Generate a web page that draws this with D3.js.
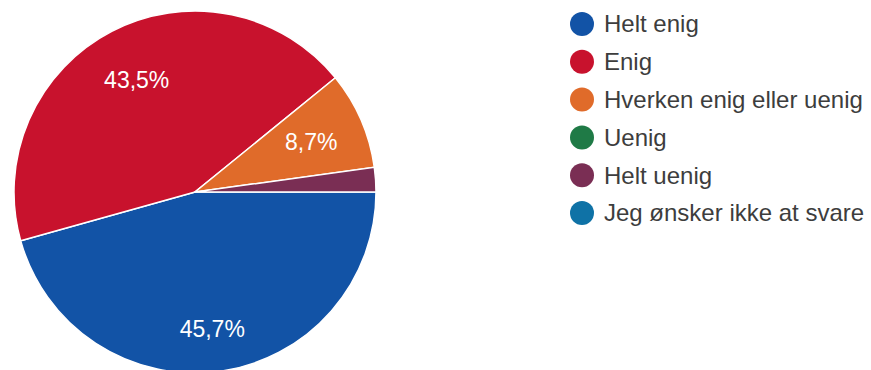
<!DOCTYPE html>
<meta charset="utf-8">
<html>
<head>
<script src="https://d3js.org/d3.v7.min.js"></script>
<style>
  body { margin: 0; background: #fff; }
  text { font-family: "Liberation Sans", Arial, sans-serif; }
</style>
</head>
<body>
<svg width="871" height="370"></svg>
<script>
// data
var categories = ["Helt enig", "Enig", "Hverken enig eller uenig", "Uenig", "Helt uenig", "Jeg ønsker ikke at svare"];
var counts = [21, 20, 4, 0, 1, 0];
var colors = ["#1253a6", "#c8122d", "#e06b2a", "#1f7a46", "#7a2e54", "#0f72a6"];

var svg = d3.select("svg"),
    cx = 195, cy = 192, radius = 181;

var total = d3.sum(counts);
var data = categories.map(function(c, i) { return { name: c, value: counts[i], color: colors[i] }; });

// pie starts at 3 o'clock, clockwise
var pie = d3.pie().sort(null).value(function(d) { return d.value; })
    .startAngle(Math.PI / 2).endAngle(Math.PI / 2 + 2 * Math.PI);
var arc = d3.arc().innerRadius(0).outerRadius(radius);
var labelArc = d3.arc().innerRadius(radius * 0.7).outerRadius(radius * 0.7);

var g = svg.append("g").attr("transform", "translate(" + cx + "," + cy + ")");

var slices = pie(data).filter(function(d) { return d.value > 0; });

g.selectAll("path")
  .data(slices)
  .enter().append("path")
    .attr("d", arc)
    .attr("fill", function(d) { return d.data.color; })
    .attr("stroke", "#fff")
    .attr("stroke-width", 1.5);

var fmt = function(v) { return (Math.round(v / total * 1000) / 10).toFixed(1).replace(".", ",") + "%"; };

var lblSize = 23;
g.selectAll("text.lbl")
  .data(slices.filter(function(d) { return d.value / total > 0.05; }))
  .enter().append("text")
    .attr("class", "lbl")
    .attr("transform", function(d) {
      var c = labelArc.centroid(d);
      // labels in the lower half sit a bit further out
      if (c[1] > radius * 0.5) c[1] += lblSize / 2;
      return "translate(" + c + ")";
    })
    .attr("text-anchor", "middle")
    .attr("dy", "0.35em")
    .attr("fill", "#fff")
    .attr("font-size", lblSize)
    .text(function(d) { return fmt(d.data.value); });

// legend
var legend = svg.append("g").attr("transform", "translate(582,24)");
var row = legend.selectAll("g")
  .data(data)
  .enter().append("g")
    .attr("transform", function(d, i) { return "translate(0," + (i * 37.8) + ")"; });

row.append("circle")
    .attr("r", 12)
    .attr("fill", function(d) { return d.color; });

row.append("text")
    .attr("x", 22)
    .attr("dy", "0.35em")
    .attr("fill", "#3d3d3d")
    .attr("font-size", 24)
    .text(function(d) { return d.name; });
</script>
</body>
</html>
